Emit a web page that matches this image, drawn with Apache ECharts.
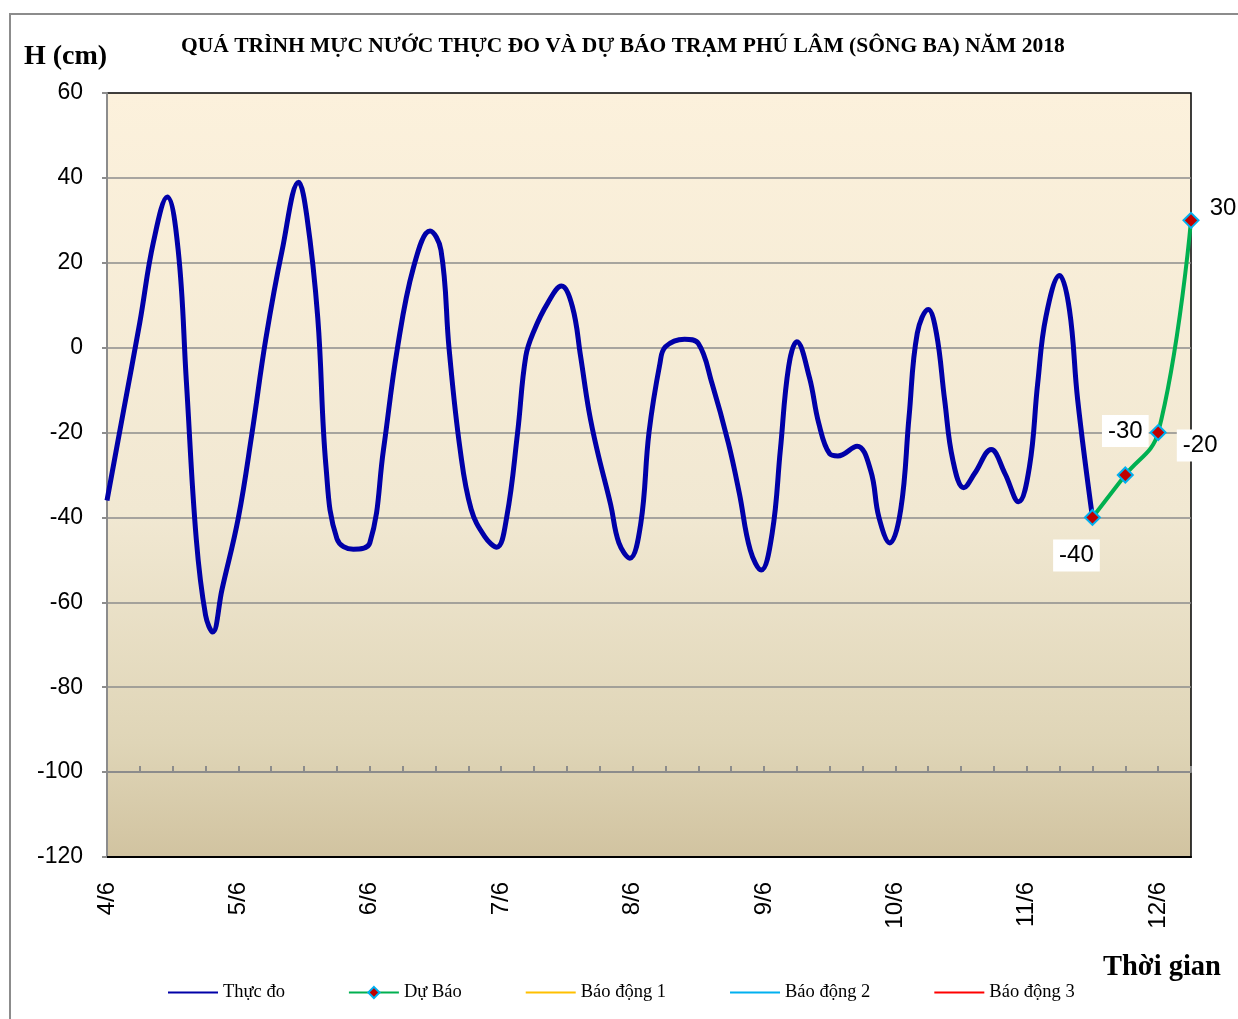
<!DOCTYPE html>
<html>
<head>
<meta charset="utf-8">
<script src="https://cdn.jsdelivr.net/npm/echarts@6/dist/echarts.min.js"></script>
<style>
  html, body { margin: 0; padding: 0; background: #fff; }
  #main { width: 1238px; height: 1019px; }
</style>
</head>
<body>
<div id="main"></div>
<script>
// số giờ tính từ 0h ngày 4/6 và mực nước thực đo (cm)
const obsHours = [0, 3, 6, 8.5, 11, 13, 14.5, 16.3, 18, 19.3, 21, 24, 26.5, 29, 32, 35, 36.5, 38.5, 40, 42,
  45, 48, 50.5, 53, 56, 59, 61, 62.5, 64.5, 66.5, 69, 71.2, 73, 75, 76.5, 78, 80.5, 83, 85, 86.5,
  88, 89.5, 92, 93.5, 95.5, 97.5, 99, 101, 102, 105.5, 108, 110.5, 113.5, 115.5, 117.5, 119.5, 121.5, 123, 124.5, 126,
  128.3, 130, 132, 133.5, 137, 139.5, 141, 143, 145, 146.5, 148, 150, 151.5, 153, 154.5, 156.5, 158.5, 161.5, 164, 166.5,
  168.5, 170, 171.5, 174, 175.8, 177.3, 180];
const obsLevels = [-36, -15, 6, 25, 35.5, 23, -8, -45, -63, -67, -57, -40, -20, 2, 23, 39, 31, 7, -28, -45,
  -47.5, -46, -24, -0.5, 19, 27.5, 23, -0.5, -24, -38, -44.5, -47, -40, -20, -2, 4, 10.5, 14.5, 9.7, -2,
  -14.7, -24, -37, -46, -49.6, -41.4, -20, -3.7, 0.2, 2, 1, -8.4, -22.5, -34.3, -47.7, -52.4, -43.7, -24, -4.5, 1.4,
  -7, -17.8, -25, -25.5, -23.2, -29, -40, -46, -38, -16.3, 3.4, 9, 3.4, -12.3, -26.5, -33, -29.6, -24, -29.6, -36.3,
  -28, -8.4, 7.3, 17, 8.9, -12.3, -40];

// dự báo
const fcHours = [180, 186, 192, 198];
const fcLevels = [-40, -30, -20, 30];

const dayLabels = ['4/6', '5/6', '6/6', '7/6', '8/6', '9/6', '10/6', '11/6', '12/6'];

// vị trí nhãn của các điểm dự báo (so với tâm điểm)
const fcLabelOffsets = [[-16, 38], [0, -44], [42, 13], [32, -12]];

let chartDom = document.getElementById('main');
let myChart = echarts.init(chartDom);
let option;

let obsData = obsHours.map((h, i) => [h, obsLevels[i]]);
let fcData = fcHours.map((h, i) => ({
  value: [h, fcLevels[i]],
  label: { offset: fcLabelOffsets[i] }
}));

option = {
  animation: false,
  backgroundColor: '#fff',
  graphic: [{
    type: 'rect',
    shape: { x: 10, y: 14, width: 1300, height: 1100 },
    style: { fill: 'none', stroke: '#8c8c8c', lineWidth: 2 },
    silent: true
  }],
  title: [
    {
      text: 'QUÁ TRÌNH MỰC NƯỚC THỰC ĐO VÀ DỰ BÁO TRẠM PHÚ LÂM (SÔNG BA) NĂM 2018',
      left: 176, top: 30,
      textStyle: { fontFamily: 'Liberation Serif', fontWeight: 'bold', fontSize: 21.5, color: '#000' }
    },
    {
      text: 'H (cm)',
      left: 19, top: 38,
      textStyle: { fontFamily: 'Liberation Serif', fontWeight: 'bold', fontSize: 28, color: '#000' }
    },
    {
      text: 'Thời gian',
      left: 1098, top: 948,
      textStyle: { fontFamily: 'Liberation Serif', fontWeight: 'bold', fontSize: 28.5, color: '#000' }
    }
  ],
  legend: {
    left: 162, top: 978,
    itemWidth: 50, itemHeight: 14, itemGap: 63,
    textStyle: { fontFamily: 'Liberation Serif', fontSize: 18.5, color: '#000' },
    data: [
      { name: 'Thực đo', itemStyle: { opacity: 0 } },
      { name: 'Dự Báo' },
      { name: 'Báo động 1', itemStyle: { opacity: 0 } },
      { name: 'Báo động 2', itemStyle: { opacity: 0 } },
      { name: 'Báo động 3', itemStyle: { opacity: 0 } }
    ]
  },
  grid: {
    left: 107, right: 47, top: 93, bottom: 162,
    show: true,
    borderColor: '#000', borderWidth: 1.5,
    backgroundColor: new echarts.graphic.LinearGradient(0, 0, 0, 1, [
      { offset: 0, color: '#fcf1dc' },
      { offset: 0.55, color: '#f1e8d2' },
      { offset: 0.85, color: '#dfd5b7' },
      { offset: 1, color: '#d1c3a0' }
    ])
  },
  xAxis: [
    {
      type: 'value', min: 0, max: 198, interval: 6,
      axisLine: { show: true, onZero: false, lineStyle: { color: '#000', width: 2 } },
      axisTick: { show: false },
      splitLine: { show: false },
      axisLabel: {
        rotate: 90, margin: 25,
        fontFamily: 'Liberation Sans', fontSize: 24, color: '#000',
        formatter: function (v) {
          return v % 24 === 0 ? (dayLabels[v / 24] || '') : '';
        }
      }
    },
    {
      type: 'value', min: 0, max: 198, interval: 6,
      position: 'bottom', offset: -85,
      axisLine: { show: true, onZero: false, lineStyle: { color: '#8c8c8c', width: 2 } },
      axisTick: { show: true, inside: true, length: 6, lineStyle: { color: '#8c8c8c', width: 2 } },
      axisLabel: { show: false },
      splitLine: { show: false }
    }
  ],
  yAxis: {
    type: 'value', min: -120, max: 60, interval: 20,
    axisLine: { show: true, lineStyle: { color: '#8c8c8c', width: 2 } },
    axisTick: { show: true, length: 5, lineStyle: { color: '#8c8c8c', width: 2 } },
    axisLabel: { margin: 24, fontFamily: 'Liberation Sans', fontSize: 23, color: '#000' },
    splitLine: { show: true, showMinLine: false, showMaxLine: false, lineStyle: { color: '#8c8c8c', width: 1.5 } }
  },
  series: [
    {
      name: 'Thực đo',
      type: 'line',
      data: obsData,
      smooth: 0.4,
      symbol: 'none',
      lineStyle: { color: '#0000a8', width: 5 },
      itemStyle: { color: '#0000a8' },
      z: 3
    },
    {
      name: 'Dự Báo',
      type: 'line',
      data: fcData,
      smooth: 0.4,
      symbol: 'diamond',
      symbolSize: 15,
      lineStyle: { color: '#00b050', width: 4 },
      itemStyle: { color: '#c00000', borderColor: '#00b0f0', borderWidth: 2 },
      label: {
        show: true,
        position: 'inside',
        fontFamily: 'Liberation Sans', fontSize: 24, color: '#000',
        backgroundColor: '#fff',
        padding: [4, 6]
      },
      z: 4
    },
    { name: 'Báo động 1', type: 'line', data: [], symbol: 'none', lineStyle: { color: '#ffc000', width: 3 }, itemStyle: { color: '#ffc000' } },
    { name: 'Báo động 2', type: 'line', data: [], symbol: 'none', lineStyle: { color: '#00b0f0', width: 3 }, itemStyle: { color: '#00b0f0' } },
    { name: 'Báo động 3', type: 'line', data: [], symbol: 'none', lineStyle: { color: '#ff0000', width: 3 }, itemStyle: { color: '#ff0000' } }
  ]
};

option && myChart.setOption(option);
</script>
</body>
</html>
